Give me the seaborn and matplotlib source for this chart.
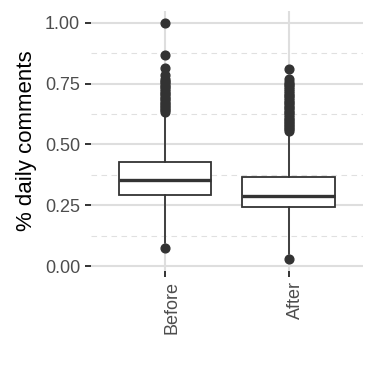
import matplotlib
matplotlib.use("Agg")
import matplotlib.pyplot as plt
import matplotlib.transforms as mtransforms
import seaborn as sns

# ---- data ----
groups = ["Before", "After"]
q1 = [0.292, 0.244]
med = [0.353, 0.289]
q3 = [0.426, 0.367]
whislo = [0.094, 0.050]
whishi = [0.626, 0.550]
fliers_before = [0.075,
                 0.635, 0.641, 0.647, 0.653, 0.659, 0.666, 0.672, 0.679, 0.686,
                 0.692, 0.699, 0.706, 0.713, 0.720, 0.727, 0.734, 0.741, 0.748,
                 0.755, 0.762, 0.770, 0.784, 0.814, 0.869, 1.000]
fliers_after = [0.029,
                0.556, 0.562, 0.568, 0.574, 0.580, 0.587, 0.593, 0.600, 0.606,
                0.613, 0.620, 0.627, 0.634, 0.641, 0.648, 0.655, 0.662, 0.669,
                0.676, 0.683, 0.690, 0.697, 0.704, 0.711, 0.718, 0.726, 0.734,
                0.742, 0.750, 0.758, 0.769, 0.808]
y_ticks = [0.00, 0.25, 0.50, 0.75, 1.00]
y_ticklabels = ["0.00", "0.25", "0.50", "0.75", "1.00"]
y_minor = [0.125, 0.375, 0.625, 0.875]
y_label = "% daily comments"

# ---- style ----
sns.set_theme(style="whitegrid")
plt.rcParams["font.family"] = ["Liberation Sans", "DejaVu Sans"]

fig = plt.figure(figsize=(3.75, 3.75), dpi=100)
ax = fig.add_axes([0.242, 0.2779, 0.726, 0.6931])

fliers = [fliers_before, fliers_after]
stats = []
for i, g in enumerate(groups):
    stats.append(dict(label=g, q1=q1[i], med=med[i], q3=q3[i],
                      whislo=whislo[i], whishi=whishi[i], fliers=fliers[i]))

dark = "#333333"
ax.bxp(stats, positions=[1, 2], widths=0.75, patch_artist=True,
       showcaps=False,
       boxprops=dict(facecolor="white", edgecolor=dark, linewidth=1.3),
       medianprops=dict(color=dark, linewidth=2.4, solid_capstyle="butt"),
       whiskerprops=dict(color=dark, linewidth=1.3),
       flierprops=dict(marker="o", markerfacecolor=dark, markeredgecolor=dark,
                       markersize=6.3, linestyle="none"),
       zorder=3)

# scales (ggplot-like expansion)
all_vals = fliers_before + fliers_after + whislo + whishi
lo, hi = min(all_vals), max(all_vals)
pad = 0.05 * (hi - lo)
ax.set_ylim(lo - pad, hi + pad)
ax.set_xlim(0.4, 2.6)

ax.set_yticks(y_ticks)
ax.set_yticklabels(y_ticklabels)
ax.set_yticks(y_minor, minor=True)
ax.set_xticks([1, 2])
ax.set_xticklabels(groups, rotation=90, va="top", ha="center")

# grid
ax.set_axisbelow(True)
ax.grid(False)
ax.grid(True, which="major", axis="both", color="#dedede", linewidth=1.5)
ax.grid(True, which="minor", axis="y", color="#e0e0e0", linewidth=0.8,
        linestyle=(0, (5, 4)))

for s in ax.spines.values():
    s.set_visible(False)
ax.set_facecolor("white")

ax.tick_params(axis="both", which="major", direction="out", length=4.2,
               width=1.4, color=dark, labelcolor="#4d4d4d", labelsize=13,
               pad=3.5, left=True, bottom=True)
ax.tick_params(axis="y", which="minor", left=False, length=0)

# shift rotated x labels slightly right like the reference
offset = mtransforms.ScaledTranslation(7 / 100, 0, fig.dpi_scale_trans)
for lab in ax.get_xticklabels():
    lab.set_transform(lab.get_transform() + offset)

ax.set_xlabel("")
ax.set_ylabel(y_label, fontsize=16, color="black")
ax.yaxis.set_label_coords(-0.198, 0.5)

fig.savefig("out.png", dpi=100, facecolor="white")
